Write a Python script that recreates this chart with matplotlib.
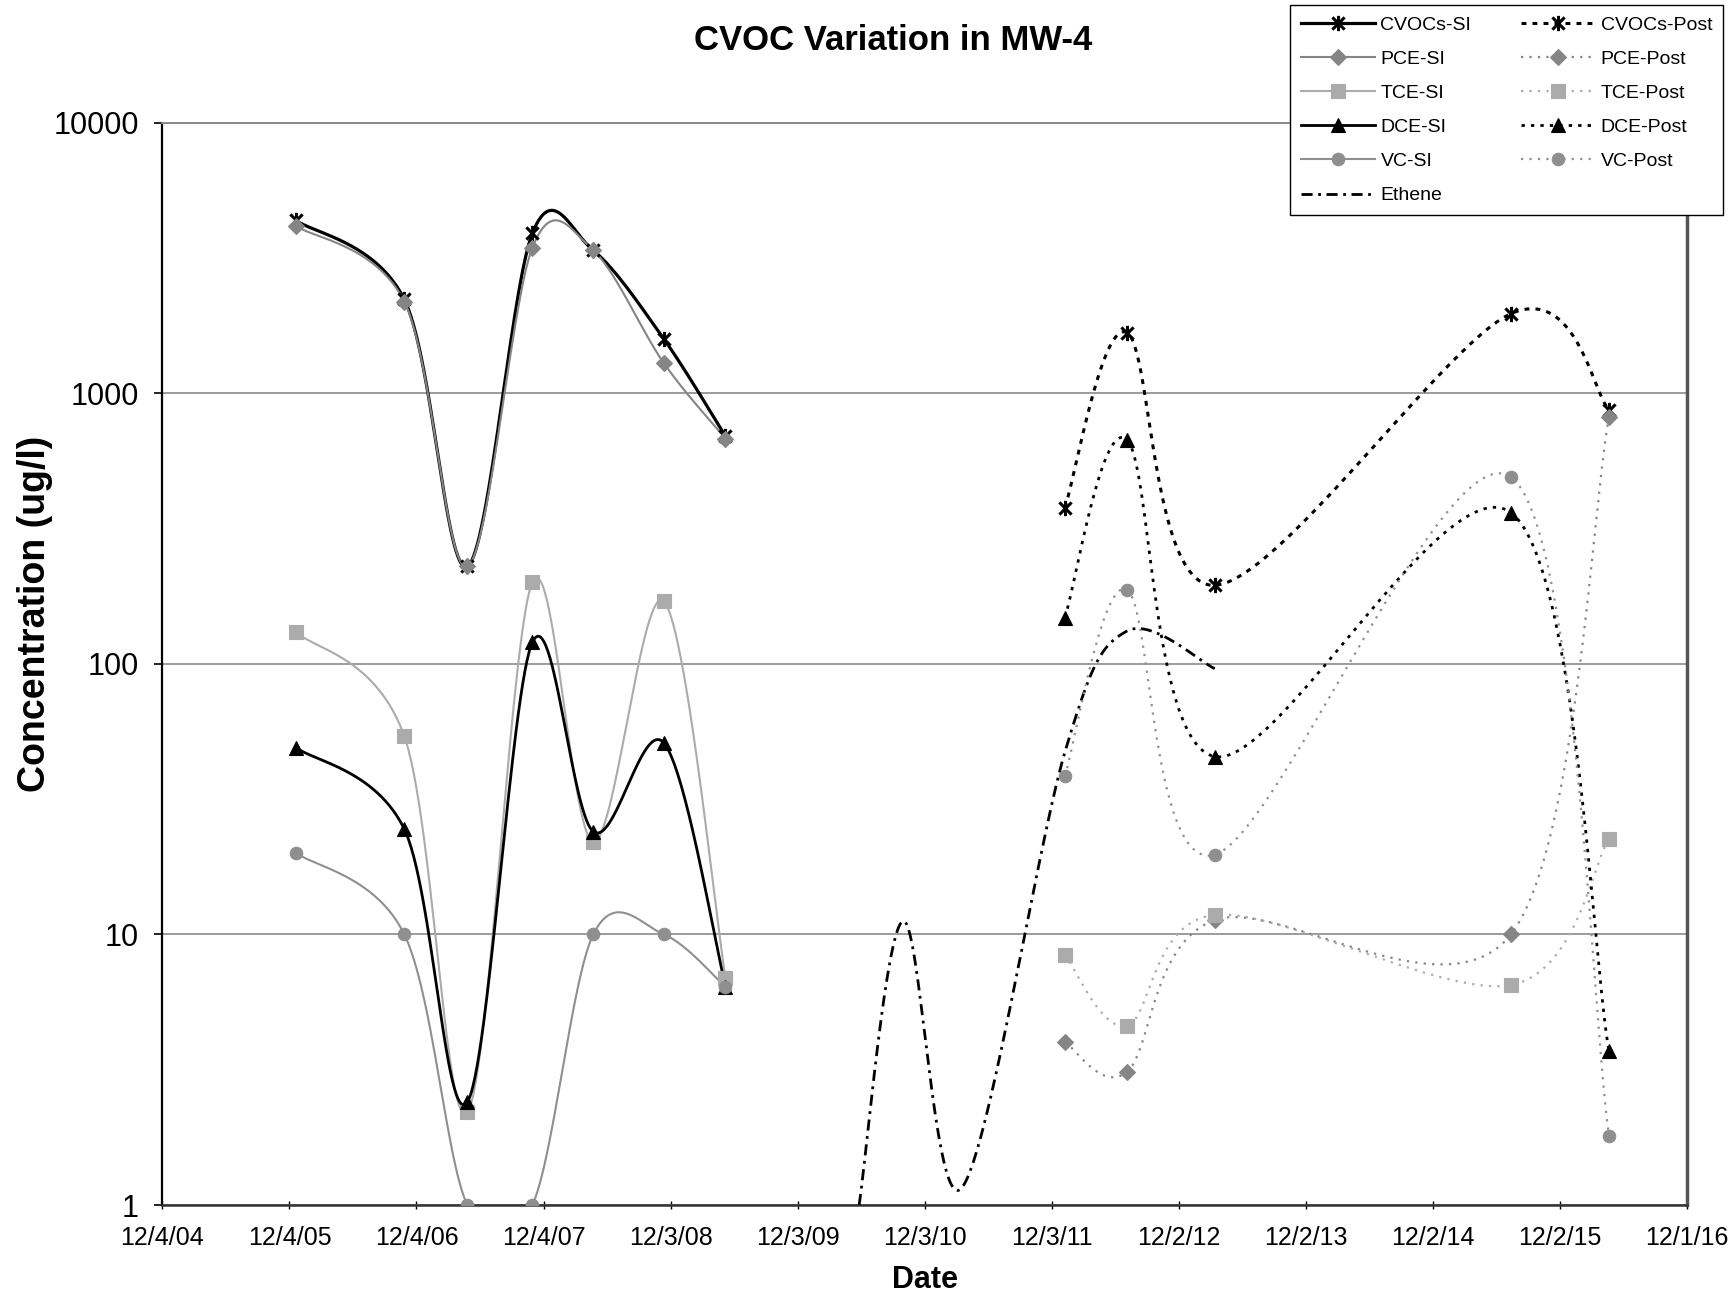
import numpy as np
import pandas as pd
import matplotlib
matplotlib.use('Agg')
import matplotlib.pyplot as plt
import matplotlib.dates as mdates
from matplotlib.lines import Line2D
from matplotlib.path import Path
from matplotlib.ticker import FixedLocator, FixedFormatter, NullLocator

plt.rcParams['font.family'] = ['Liberation Sans', 'DejaVu Sans']

# sampling dates and concentrations (ug/l)
si_dates = ['2005-12-23', '2006-10-30', '2007-04-29', '2007-11-02',
            '2008-04-25', '2008-11-14', '2009-05-10']
cvocs_si = [4350, 2220, 229, 3900, 3370, 1585, 693]
pce_si = [4150, 2180, 229, 3450, 3370, 1290, 680]
tce_si = [131, 54, 2.2, 200, 22, 170, 6.9]
dce_si = [49, 24.5, 2.4, 120, 24, 51, 6.4]
vc_si = [20, 10, 1, 1, 10, 10, 6.4]

post_dates = ['2012-01-10', '2012-07-06', '2013-03-16', '2015-07-15', '2016-04-22']
cvocs_post = [377, 1676, 195, 1967, 869]
pce_post = [4.0, 3.1, 11.3, 10, 820]
tce_post = [8.4, 4.6, 11.8, 6.5, 22.6]
dce_post = [148, 674, 45.4, 362, 3.7]
vc_post = [38.4, 188, 19.7, 490, 1.8]

ethene_dates = ['2010-05-29', '2010-10-03', '2011-03-18', '2012-01-10',
                '2012-07-06', '2013-03-16']
ethene = [1.0, 11.2, 1.15, 47, 132, 96]

xtick_labels = ['12/4/04', '12/4/05', '12/4/06', '12/4/07', '12/3/08', '12/3/09',
                '12/3/10', '12/3/11', '12/2/12', '12/2/13', '12/2/14', '12/2/15',
                '12/1/16']
ytick_values = [1, 10, 100, 1000, 10000]

GREY_D = '#858585'
GREY_M = '#8f8f8f'
GREY_L = '#ababab'

# excel style "star" marker: an X with a vertical bar
star = Path([(-1, -1), (1, 1), (-1, 1), (1, -1), (0, -1.25), (0, 1.25)],
            [Path.MOVETO, Path.LINETO, Path.MOVETO, Path.LINETO,
             Path.MOVETO, Path.LINETO])


def smooth(dates, vals, n=60):
    # bezier smoothing (catmull-rom) in date / log10 space, like excel's smoothed line
    x = mdates.date2num(pd.to_datetime(dates))
    y = np.log10(np.asarray(vals, dtype=float))
    p = np.column_stack([x, y])
    ext = np.vstack([p[0], p, p[-1]])
    t = np.linspace(0, 1, n)[:, None]
    segs = []
    for i in range(len(p) - 1):
        p0, p1, p2, p3 = ext[i], ext[i + 1], ext[i + 2], ext[i + 3]
        c1 = p1 + (p2 - p0) / 6
        c2 = p2 - (p3 - p1) / 6
        segs.append((1 - t) ** 3 * p1 + 3 * (1 - t) ** 2 * t * c1
                    + 3 * (1 - t) * t ** 2 * c2 + t ** 3 * p2)
    s = np.vstack(segs)
    return mdates.num2date(s[:, 0]), 10 ** s[:, 1]


fig = plt.figure(figsize=(17.32, 12.96), dpi=100)
ax = fig.add_axes([0.0938, 0.0702, 0.880, 0.8352])

series = [
    # label, dates, values, color, lw, linestyle, marker, msize, filled
    ('CVOCs-SI', si_dates, cvocs_si, 'black', 2.3, '-', star, 11, False),
    ('PCE-SI', si_dates, pce_si, GREY_D, 1.5, '-', 'D', 8, True),
    ('TCE-SI', si_dates, tce_si, GREY_L, 1.5, '-', 's', 9.5, True),
    ('DCE-SI', si_dates, dce_si, 'black', 2.0, '-', '^', 10, True),
    ('VC-SI', si_dates, vc_si, GREY_M, 1.5, '-', 'o', 9, True),
    ('Ethene', ethene_dates, ethene, 'black', 2.0, (0, (4, 2, 1, 2)), None, 0, True),
    ('CVOCs-Post', post_dates, cvocs_post, 'black', 2.2, (0, (1.6, 2)), star, 11, False),
    ('PCE-Post', post_dates, pce_post, GREY_D, 1.6, (0, (1, 2.8)), 'D', 8, True),
    ('TCE-Post', post_dates, tce_post, GREY_L, 1.6, (0, (1, 2.8)), 's', 9.5, True),
    ('DCE-Post', post_dates, dce_post, 'black', 2.0, (0, (1.2, 2.2)), '^', 10, True),
    ('VC-Post', post_dates, vc_post, GREY_M, 1.6, (0, (1, 2.8)), 'o', 9, True),
]

handles = []
for label, d, v, col, lw, ls, mk, ms, filled in series:
    sx, sy = smooth(d, v)
    ax.plot(sx, sy, color=col, lw=lw, ls=ls, zorder=3)
    kw = dict(marker=mk, markersize=ms, color=col)
    if mk is not None:
        if filled:
            kw.update(markerfacecolor=col, markeredgecolor=col, markeredgewidth=0.8)
        else:
            kw.update(markeredgewidth=2.2)
        ax.plot(pd.to_datetime(d), v, ls='none', zorder=4, **kw)
    handles.append(Line2D([], [], lw=lw, ls=ls, label=label, **kw))

ax.set_yscale('log')
ax.set_ylim(1, 10000)
ax.yaxis.set_major_locator(FixedLocator(ytick_values))
ax.yaxis.set_major_formatter(FixedFormatter([str(v) for v in ytick_values]))
ax.yaxis.set_minor_locator(NullLocator())
ax.grid(axis='y', color='#8a8a8a', lw=1.2)
ax.set_axisbelow(True)

xt = pd.to_datetime(xtick_labels, format='%m/%d/%y')
ax.set_xlim(xt[0], xt[-1])
ax.set_xticks(xt)
ax.set_xticklabels(xtick_labels)

ax.tick_params(axis='y', labelsize=22, length=6, width=1.2, pad=11, direction='out')
ax.tick_params(axis='x', labelsize=17, length=6, width=1, pad=12, direction='inout')
for lab in ax.get_xticklabels():
    lab.set_family(['Liberation Sans Narrow', 'Liberation Sans'])
    lab.set_fontsize(18)

ax.spines['left'].set_color('black')
ax.spines['left'].set_linewidth(1.6)
ax.spines['bottom'].set_color('#333333')
ax.spines['bottom'].set_linewidth(1.8)
ax.spines['top'].set_color('#8a8a8a')
ax.spines['top'].set_linewidth(1.4)
ax.spines['right'].set_color('#555555')
ax.spines['right'].set_linewidth(2.5)

fig.text(0.5156, 0.969, 'CVOC Variation in MW-4', fontsize=25, fontweight='bold',
         ha='center', va='center')
fig.text(0.0202, 0.526, 'Concentration (ug/l)', fontsize=27, fontweight='bold',
         rotation=90, ha='center', va='center')
fig.text(0.5338, 0.0123, 'Date', fontsize=22, fontweight='bold', ha='center', va='center')

leg = fig.legend(handles=handles, ncol=2, loc='upper left',
                 bbox_to_anchor=(0.7448, 0.9958, 0.25, 0.0), mode='expand',
                 fontsize=14, frameon=True, fancybox=False, framealpha=1,
                 edgecolor='black', handlelength=3.8, handletextpad=0.3,
                 labelspacing=0.85, borderpad=0.55, columnspacing=2.0,
                 numpoints=1, borderaxespad=0)
leg.get_frame().set_linewidth(1.0)

fig.savefig('out.png', dpi=100)
